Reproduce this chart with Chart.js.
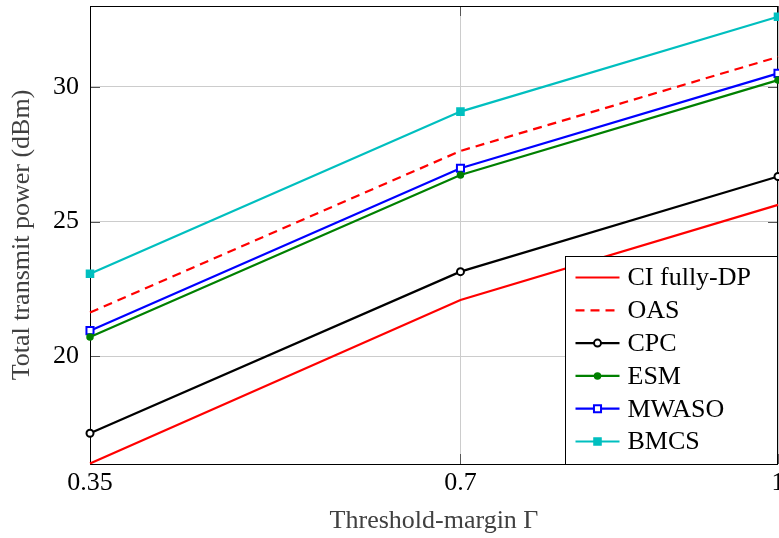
<!DOCTYPE html>
<html>
<head>
<meta charset="utf-8">
<script src="https://cdn.jsdelivr.net/npm/chart.js@4.4.1/dist/chart.umd.min.js"></script>
<style>
  html, body { margin: 0; padding: 0; background: #fff; }
  #chart { display: block; }
</style>
</head>
<body>
<canvas id="chart" width="779" height="538"></canvas>
<script>
// 数据
const gammaValues = [0.35, 0.7, 1];
const xTicks = [0.35, 0.7, 1];
const yTicks = [20, 25, 30];

const ciFullyDP = [16.02, 22.09, 25.62];
const oas       = [21.62, 27.62, 31.11];
const cpc       = [17.14, 23.14, 26.67];
const esm       = [20.71, 26.73, 30.25];
const mwaso     = [20.95, 26.98, 30.50];
const bmcs      = [23.06, 29.08, 32.60];

const serif = "'Liberation Serif', 'DejaVu Serif', serif";
const fontSize = 26;

function toPoints(arr) {
  return gammaValues.map((g, i) => ({ x: g, y: arr[i] }));
}

// 标记
function drawMarker(ctx, style, x, y, r, fill, stroke, bw) {
  ctx.save();
  ctx.setLineDash([]);
  ctx.lineWidth = bw;
  ctx.fillStyle = fill;
  ctx.strokeStyle = stroke;
  ctx.beginPath();
  if (style === 'circle') ctx.arc(x, y, r, 0, Math.PI * 2);
  else {
    const s = Math.SQRT1_2 * r;
    ctx.rect(x - s, y - s, 2 * s, 2 * s);
  }
  ctx.fill();
  ctx.stroke();
  ctx.restore();
}

// 不让刻度标签撑开绘图区
const noPadding = () => ({ left: 0, top: 0, right: 0, bottom: 0 });

// 边框和刻度线
const framePlugin = {
  id: 'frame',
  beforeDatasetsDraw(chart) {
    const { ctx, chartArea: a, scales } = chart;
    ctx.save();
    ctx.strokeStyle = '#555';
    ctx.lineWidth = 1;
    const seg = (x1, y1, x2, y2) => { ctx.beginPath(); ctx.moveTo(x1, y1); ctx.lineTo(x2, y2); ctx.stroke(); };
    yTicks.forEach(v => {
      const y = Math.round(scales.y.getPixelForValue(v)) + 0.5;
      seg(a.left, y, a.left + 10, y);
      seg(a.right - 10, y, a.right, y);
    });
    xTicks.forEach(v => {
      const x = Math.round(scales.x.getPixelForValue(v)) + 0.5;
      seg(x, a.bottom, x, a.bottom - 10);
      seg(x, a.top, x, a.top + 10);
    });
    ctx.strokeStyle = '#000';
    ctx.strokeRect(Math.round(a.left) + 0.5, Math.round(a.top) + 0.5, Math.round(a.right - a.left) - 1, Math.round(a.bottom - a.top));
    ctx.restore();
  }
};

// 图例（右下角）
const legendPlugin = {
  id: 'boxLegend',
  afterDatasetsDraw(chart) {
    const { ctx, chartArea: a } = chart;
    const w = 212, h = 208;
    const lx = Math.round(a.right - w) - 0.5, ly = Math.round(a.bottom - h) + 0.5;
    ctx.save();
    ctx.fillStyle = '#fff';
    ctx.fillRect(lx, ly, w, h);
    ctx.strokeStyle = '#000';
    ctx.lineWidth = 1;
    ctx.strokeRect(lx, ly, w, h);
    chart.data.datasets.forEach((ds, i) => {
      const cy = ly + 21 + i * 32.8;
      ctx.strokeStyle = ds.borderColor;
      ctx.lineWidth = ds.borderWidth;
      ctx.setLineDash(ds.borderDash || []);
      ctx.beginPath();
      ctx.moveTo(lx + 10, cy);
      ctx.lineTo(lx + 54, cy);
      ctx.stroke();
      if (ds.pointRadius > 0) {
        drawMarker(ctx, ds.pointStyle, lx + 32, cy, ds.pointRadius, ds.pointBackgroundColor, ds.pointBorderColor, ds.pointBorderWidth);
      }
      ctx.setLineDash([]);
      ctx.fillStyle = '#000';
      ctx.font = fontSize + 'px ' + serif;
      ctx.textBaseline = 'middle';
      ctx.textAlign = 'left';
      ctx.fillText(ds.label, lx + 62, cy + 1);
    });
    ctx.restore();
  }
};

function series(label, data, color, opts) {
  return Object.assign({
    label: label,
    data: toPoints(data),
    borderColor: color,
    backgroundColor: color,
    borderWidth: 2.2,
    pointRadius: 0,
    pointHoverRadius: 0,
    pointStyle: 'circle',
    pointBackgroundColor: color,
    pointBorderColor: color,
    pointBorderWidth: 1.5,
    tension: 0,
    clip: false
  }, opts || {});
}

new Chart(document.getElementById('chart'), {
  type: 'line',
  data: {
    datasets: [
      series('CI fully-DP', ciFullyDP, '#ff0000'),
      series('OAS', oas, '#ff0000', { borderDash: [9, 6] }),
      series('CPC', cpc, '#000000', { pointRadius: 3.5, pointBackgroundColor: '#ffffff', pointBorderWidth: 2 }),
      series('ESM', esm, '#008000', { pointRadius: 3 }),
      series('MWASO', mwaso, '#0000ff', { pointRadius: 5, pointStyle: 'rect', pointBackgroundColor: '#ffffff', pointBorderWidth: 2 }),
      series('BMCS', bmcs, '#00bfbf', { pointRadius: 5, pointStyle: 'rect' })
    ]
  },
  options: {
    responsive: false,
    animation: false,
    devicePixelRatio: 1,
    layout: { autoPadding: false, padding: { top: 6, right: 1, left: 0, bottom: 0 } },
    plugins: { legend: { display: false }, tooltip: { enabled: false } },
    scales: {
      x: {
        type: 'linear',
        min: 0.35,
        max: 1,
        afterBuildTicks: s => { s.ticks = xTicks.map(v => ({ value: v })); },
        afterFit: s => { s.height = 74; s.paddingLeft = 0; s.paddingRight = 0; s.getPadding = noPadding; },
        grid: { color: '#cccccc', lineWidth: 1, drawTicks: false },
        border: { display: false },
        ticks: {
          color: '#000',
          font: { family: serif, size: fontSize },
          padding: 4,
          maxRotation: 0,
          autoSkip: false,
          callback: v => String(v)
        },
        title: {
          display: true,
          text: 'Threshold-margin Γ',
          color: '#404040',
          font: { family: serif, size: fontSize },
          padding: { top: 0, bottom: 1 }
        }
      },
      y: {
        min: 16,
        max: 33,
        afterBuildTicks: s => { s.ticks = yTicks.map(v => ({ value: v })); },
        afterFit: s => { s.width = 90; s.paddingTop = 0; s.paddingBottom = 0; s.getPadding = noPadding; },
        grid: { color: '#cccccc', lineWidth: 1, drawTicks: false },
        border: { display: false },
        ticks: {
          color: '#000',
          font: { family: serif, size: fontSize },
          padding: 11,
          autoSkip: false,
          callback: v => String(v)
        },
        title: {
          display: true,
          text: 'Total transmit power (dBm)',
          color: '#404040',
          font: { family: serif, size: fontSize },
          padding: { top: 7, bottom: 0 }
        }
      }
    }
  },
  plugins: [framePlugin, legendPlugin]
});
</script>
</body>
</html>
